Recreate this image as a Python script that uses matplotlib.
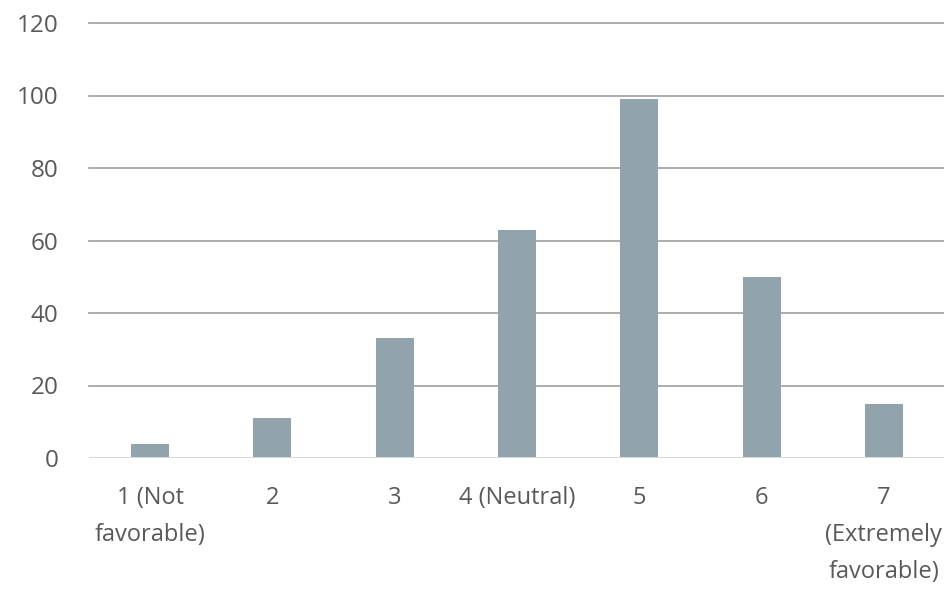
import matplotlib
matplotlib.use("Agg")
import matplotlib.pyplot as plt

categorias = ["1 (Not\nfavorable)", "2", "3", "4 (Neutral)", "5", "6", "7\n(Extremely\nfavorable)"]
valores = [4, 11, 33, 63, 99, 50, 15]
marcasY = [0, 20, 40, 60, 80, 100, 120]

plt.rcParams['font.family'] = ['Open Sans', 'DejaVu Sans']

fig = plt.figure(figsize=(9.45, 5.91), dpi=100)
ax = fig.add_axes([89 / 945, 133 / 591, 1 - 89 / 945, 435 / 591])

posicoes = range(len(categorias))
ax.bar(posicoes, valores, width=0.31, color='#91a3ad', zorder=3)

ax.set_xlim(-0.5, len(categorias) - 0.5)
ax.set_ylim(0, 120)
ax.set_yticks(marcasY)
ax.set_xticks(list(posicoes))
ax.set_xticklabels(categorias)
for rotulo in ax.get_xticklabels():
    rotulo.set_linespacing(1.72)

# linhas de grade horizontais, a linha do zero mais clara
for y in marcasY[1:]:
    ax.axhline(y, color='#a6a6a6', linewidth=1.3, zorder=1, clip_on=False)
ax.axhline(0, color='#d9d9d9', linewidth=1.5, zorder=4)

for lado in ['top', 'right', 'left', 'bottom']:
    ax.spines[lado].set_visible(False)

ax.tick_params(axis='both', length=0, colors='#595959')
ax.tick_params(axis='y', pad=22, labelsize=17.5)
ax.tick_params(axis='x', pad=20.5, labelsize=17)

fig.savefig("out.png", dpi=100)
